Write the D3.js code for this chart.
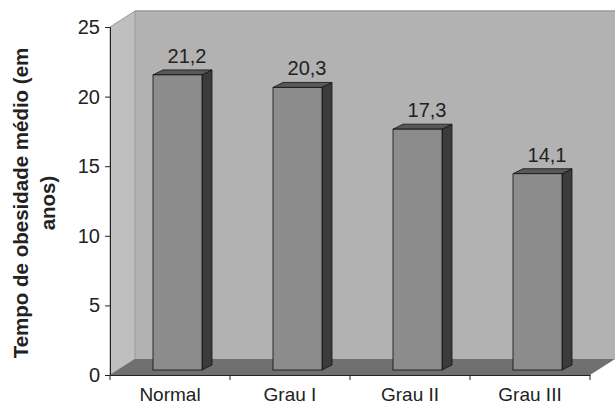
<!DOCTYPE html>
<html lang="pt">
<head>
<meta charset="UTF-8">
<title>Tempo de obesidade médio</title>
<script src="https://cdnjs.cloudflare.com/ajax/libs/d3/7.8.5/d3.min.js"></script>
<style>
    body { margin: 0; background: #fff; }
    svg text { font-family: "Liberation Sans", Arial, sans-serif; fill: #222; }
</style>
</head>
<body>
<svg id="chart" width="615" height="406"></svg>
<script>
    const categories = ["Normal", "Grau I", "Grau II", "Grau III"];
    const values = [21.2, 20.3, 17.3, 14.1];
    const yTicks = [0, 5, 10, 15, 20, 25];
    const yTitle = ["Tempo de obesidade médio (em", "anos)"];

    const svg = d3.select("#chart");

    const plotLeft = 110, plotRight = 590, plotTop = 27, plotBottom = 375;
    const depth = { dx: 25, dy: -16 };   // wall/floor depth
    const barDepth = { dx: 10, dy: -5 };  // bar side depth

    const x = d3.scaleBand().domain(categories).range([plotLeft, plotRight]);
    const y = d3.scaleLinear().domain([0, 25]).range([plotBottom, plotTop]);

    const pts = a => a.map(p => p.join(",")).join(" ");

    // back wall
    svg.append("polygon")
        .attr("points", pts([[plotLeft + depth.dx, y(25) + depth.dy], [640, y(25) + depth.dy],
                             [640, y(0) + depth.dy], [plotLeft + depth.dx, y(0) + depth.dy]]))
        .attr("fill", "#b2b2b2");
    svg.append("line")
        .attr("x1", plotLeft + depth.dx).attr("x2", 640)
        .attr("y1", y(25) + depth.dy).attr("y2", y(25) + depth.dy)
        .attr("stroke", "#999").attr("stroke-width", 1.5);

    // left side wall
    svg.append("polygon")
        .attr("points", pts([[plotLeft, y(25)], [plotLeft + depth.dx, y(25) + depth.dy],
                             [plotLeft + depth.dx, y(0) + depth.dy], [plotLeft, y(0)]]))
        .attr("fill", "#bfbfbf").attr("stroke", "#999").attr("stroke-width", 1);

    // floor
    svg.append("polygon")
        .attr("points", pts([[plotLeft, y(0)], [plotLeft + depth.dx, y(0) + depth.dy],
                             [plotRight + depth.dx, y(0) + depth.dy], [plotRight, y(0)]]))
        .attr("fill", "#6f6f6f");

    // bars
    const bw = 49, off = 43, lift = 5;
    const bars = svg.append("g").selectAll("g").data(categories).join("g");
    bars.each(function(c, i) {
        const g = d3.select(this);
        const x0 = x(c) + off, x1 = x0 + bw;
        const yb = y(0) - lift, yt = y(values[i]) - lift;
        g.append("polygon") // side
            .attr("points", pts([[x1, yt], [x1 + barDepth.dx, yt + barDepth.dy],
                                 [x1 + barDepth.dx, yb + barDepth.dy], [x1, yb]]))
            .attr("fill", "#3b3b3b").attr("stroke", "#111").attr("stroke-width", 0.8);
        g.append("polygon") // top
            .attr("points", pts([[x0, yt], [x0 + barDepth.dx, yt + barDepth.dy],
                                 [x1 + barDepth.dx, yt + barDepth.dy], [x1, yt]]))
            .attr("fill", "#585858").attr("stroke", "#111").attr("stroke-width", 0.8);
        g.append("rect") // front
            .attr("x", x0).attr("y", yt).attr("width", bw).attr("height", yb - yt)
            .attr("fill", "#8c8c8c").attr("stroke", "#111").attr("stroke-width", 0.8);
        g.append("text")
            .attr("x", x0 + 34).attr("y", y(values[i]) - 17)
            .attr("text-anchor", "middle").attr("font-size", 20)
            .text(String(values[i]).replace(".", ","));
    });

    // y axis
    const yAxis = svg.append("g")
        .attr("transform", `translate(${plotLeft},0)`)
        .call(d3.axisLeft(y).tickValues(yTicks).tickSize(5).tickPadding(5));
    yAxis.select(".domain").attr("stroke", "#222");
    yAxis.selectAll(".tick line").attr("stroke", "#222");
    yAxis.selectAll("text").attr("font-size", 20).attr("fill", "#222")
        .attr("font-family", "Liberation Sans, Arial, sans-serif");

    // x axis
    const xAxis = svg.append("g")
        .attr("transform", `translate(0,${plotBottom})`)
        .call(d3.axisBottom(x).tickSize(0).tickPadding(13));
    xAxis.select(".domain").attr("stroke", "#222");
    xAxis.selectAll("text").attr("font-size", 19).attr("fill", "#222")
        .attr("font-family", "Liberation Sans, Arial, sans-serif");
    svg.append("g").selectAll("line")
        .data(categories.map(c => x(c)).concat([plotRight]))
        .join("line")
        .attr("x1", d => d).attr("x2", d => d)
        .attr("y1", plotBottom).attr("y2", plotBottom + 5)
        .attr("stroke", "#222");

    // y title
    svg.append("g").selectAll("text").data(yTitle).join("text")
        .attr("transform", (d, i) => `translate(${28 + i * 27},203) rotate(-90)`)
        .attr("text-anchor", "middle")
        .attr("font-size", 20.5).attr("font-weight", "bold")
        .text(d => d);
</script>
</body>
</html>
